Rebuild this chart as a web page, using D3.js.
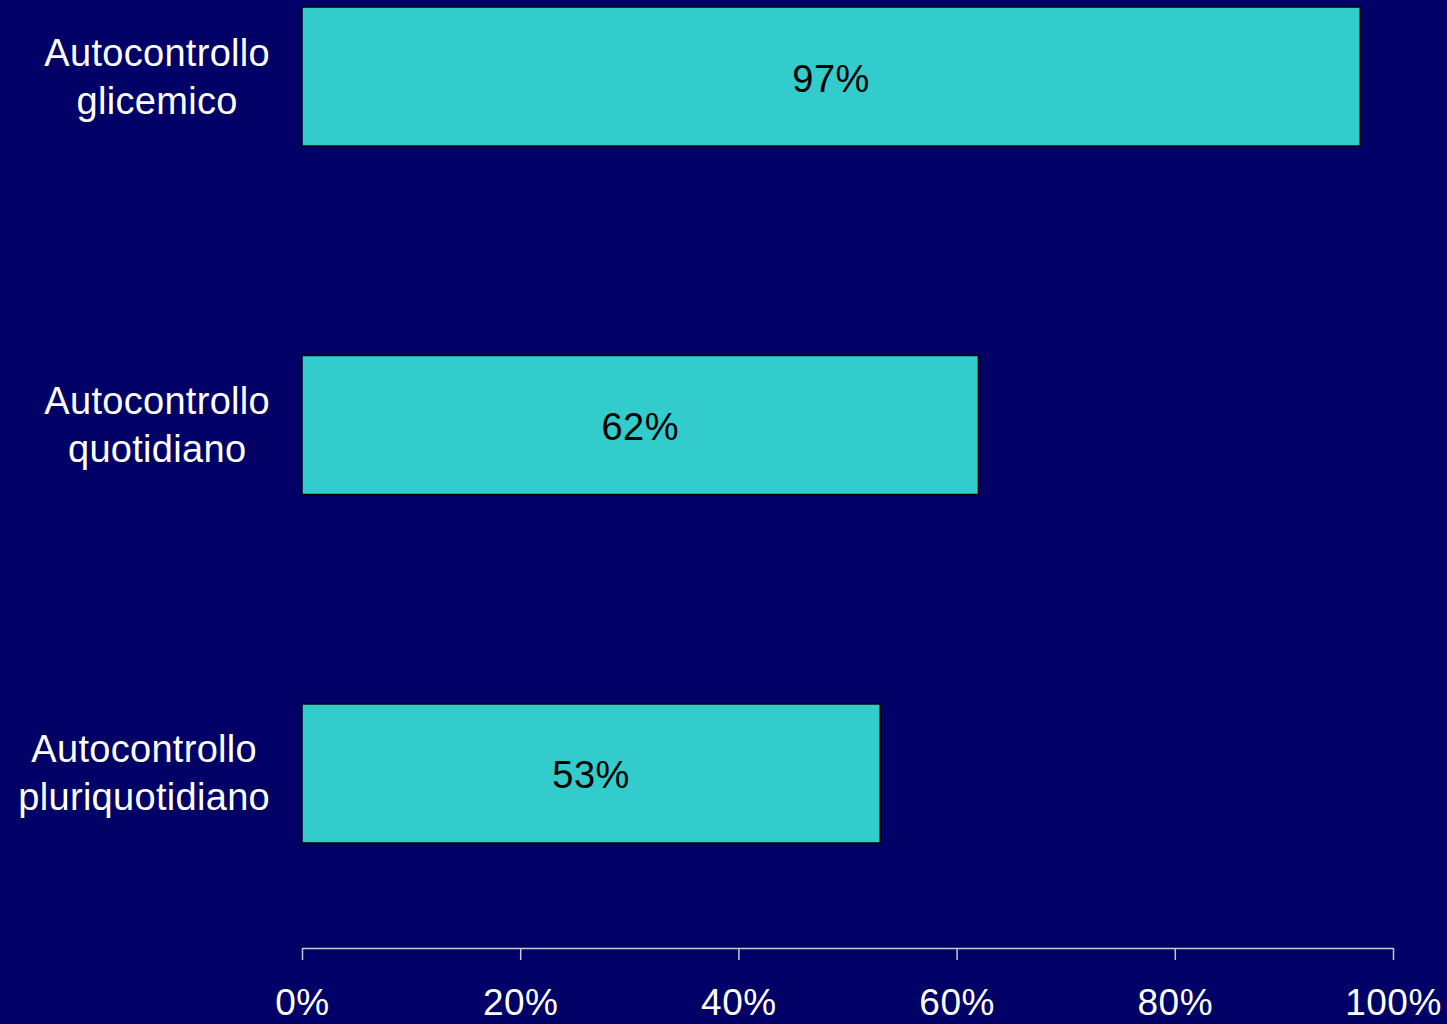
<!DOCTYPE html>
<html>
<head>
<meta charset="utf-8">
<script src="https://cdn.jsdelivr.net/npm/d3@7"></script>
<style>
  html, body { margin: 0; padding: 0; background: #000066; }
  svg { display: block; }
</style>
</head>
<body>
<svg width="1447" height="1024"></svg>
<script>
const svg = d3.select("svg");

// Chart data
const categories = [
    ["Autocontrollo", "glicemico"],
    ["Autocontrollo", "quotidiano"],
    ["Autocontrollo", "pluriquotidiano"]
];
const values = [97, 62, 53];
const tickValues = [0, 20, 40, 60, 80, 100];

const fontFamily = "'Liberation Sans', Arial, sans-serif";

// Scales
const xScale = d3.scaleLinear()
    .domain([0, 100])
    .range([302, 1393]);

const yScale = d3.scaleBand()
    .domain(d3.range(categories.length))
    .range([7, 843])
    .paddingInner(0.601)
    .paddingOuter(0);

// Bars
svg.selectAll("rect.bar").data(values)
    .enter().append("rect")
    .attr("class", "bar")
    .attr("x", xScale(0))
    .attr("y", (d, i) => yScale(i))
    .attr("width", d => xScale(d) - xScale(0))
    .attr("height", yScale.bandwidth())
    .attr("fill", "#33cccc")
    .attr("stroke", "#000000")
    .attr("stroke-width", 1.5);

// Value labels in the middle of each bar
svg.selectAll("text.value").data(values)
    .enter().append("text")
    .attr("class", "value")
    .attr("x", d => (xScale(0) + xScale(d)) / 2)
    .attr("y", (d, i) => yScale(i) + yScale.bandwidth() / 2 + 15)
    .attr("text-anchor", "middle")
    .attr("font-family", fontFamily)
    .attr("font-size", 38)
    .attr("letter-spacing", 0.5)
    .attr("fill", "#000000")
    .text(d => d + "%");

// Category labels: two centred lines, block right-aligned at x=270
const labelRight = 270;
categories.forEach((lines, i) => {
    const cy = yScale(i) + yScale.bandwidth() / 2;
    const g = svg.append("g").attr("class", "category");
    const texts = lines.map((line, j) => g.append("text")
        .attr("y", cy - 11 + j * 48)
        .attr("text-anchor", "middle")
        .attr("font-family", fontFamily)
        .attr("font-size", 38)
        .attr("letter-spacing", 0.3)
        .attr("fill", "#ffffff")
        .text(line));
    const maxWidth = d3.max(texts, t => t.node().getComputedTextLength());
    texts.forEach(t => t.attr("x", labelRight - maxWidth / 2));
});

// X axis
const xAxis = d3.axisBottom(xScale)
    .tickValues(tickValues)
    .tickFormat(d => d + "%")
    .tickSize(12)
    .tickSizeOuter(0)
    .tickPadding(29);

const axisG = svg.append("g")
    .attr("transform", "translate(0, 948)")
    .call(xAxis);

axisG.select(".domain").attr("stroke", "#c8c8d8").attr("stroke-width", 1.5);
axisG.selectAll(".tick line").attr("stroke", "#c8c8d8").attr("stroke-width", 1.5);
axisG.selectAll(".tick text")
    .attr("fill", "#ffffff")
    .attr("font-family", fontFamily)
    .attr("font-size", 37)
    .attr("letter-spacing", 0.5);
</script>
</body>
</html>
